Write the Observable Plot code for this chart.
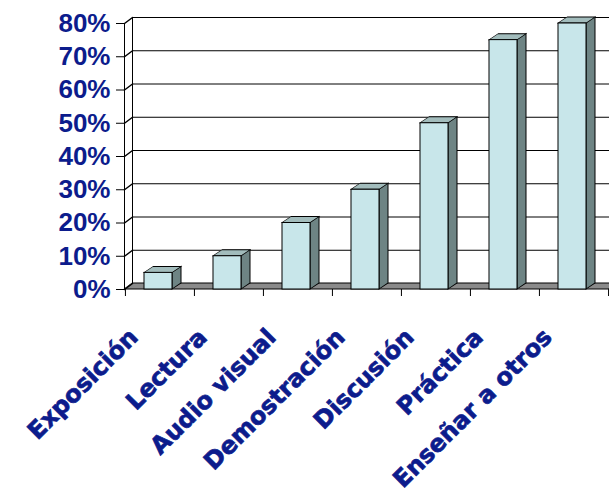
<!DOCTYPE html>
<html>
<head>
<meta charset="utf-8">
<script src="https://cdn.jsdelivr.net/npm/d3@7"></script>
<script src="https://cdn.jsdelivr.net/npm/@observablehq/plot@0.6"></script>
<style>
  html, body { margin: 0; padding: 0; background: white; overflow: hidden; }
  .ylab text { font-family: "Liberation Sans", Arial, sans-serif; font-weight: bold; }
  .xlab text { font-family: "DejaVu Sans", sans-serif; font-weight: bold; stroke: #0c1c8c; stroke-width: 0.7px; }
</style>
</head>
<body>
<div id="chart"></div>
<script>
const categories = ["Exposición", "Lectura", "Audio visual", "Demostración", "Discusión", "Práctica", "Enseñar a otros"];
const values = [0.05, 0.10, 0.20, 0.30, 0.50, 0.75, 0.80];
const yTicks = [0, 0.1, 0.2, 0.3, 0.4, 0.5, 0.6, 0.7, 0.8];

const data = categories.map((c, i) => ({cat: c, v: values[i]}));

const W = 609, H = 497, mL = 124, mR = 1, mT = 23, mB = 208;
const bw = (W - mL - mR) / categories.length;
const navy = "#0c1c8c";
const faceFill = "#c8e6ea", sideFill = "#6e8484", topFill = "#a2bcbc", floorFill = "#8a8a8a";

const plot = Plot.plot({
  width: W, height: H,
  marginLeft: mL, marginRight: mR, marginTop: mT, marginBottom: mB,
  x: {domain: categories, padding: 0, label: null},
  y: {domain: [0, 0.8], label: null},
  style: {background: "white", overflow: "visible"},
  marks: [
    Plot.ruleY(yTicks, {dx: 8, dy: -6, stroke: "black"}),
    Plot.frame({anchor: "left", dx: 8, dy: -6, stroke: "black"}),
    Plot.frame({className: "floor", fill: floorFill, stroke: "black", insetTop: H - mT - mB - 6}),
    Plot.vector(yTicks, {y: d => d, frameAnchor: "left", length: 10, rotate: 53.13, anchor: "start", stroke: "black",
      shape: {draw(c, l) { c.moveTo(0, 0); c.lineTo(0, -l); }}}),
    Plot.frame({anchor: "left", stroke: "black"}),
    Plot.barY(data, {x: "cat", y: "v", className: "side", insetLeft: 47, insetRight: 13, fill: sideFill, stroke: "black"}),
    Plot.barY(data, {x: "cat", y1: "v", y2: "v", className: "top", insetLeft: 19, insetRight: 22, fill: topFill, stroke: "black"}),
    Plot.barY(data, {x: "cat", y: "v", className: "front", insetLeft: 19, insetRight: 22, fill: faceFill, stroke: "black"}),
    Plot.axisY({className: "ylab", ticks: yTicks, tickFormat: d3.format(".0%"), tickSize: 8, tickPadding: 6,
      fontSize: 26, fill: navy, stroke: "black"}),
    Plot.axisX({className: "xlab", tickSize: 0, tickRotate: -45, fontSize: 24, fill: navy, dx: -26, dy: 32}),
    Plot.axisX({tickSize: 7, tickFormat: () => "", dx: -bw / 2, stroke: "black"}),
    Plot.axisX({ticks: [categories[categories.length - 1]], tickSize: 7, tickFormat: () => "", dx: bw / 2, stroke: "black"})
  ]
});

const svg = d3.select(plot);
svg.selectAll("g.side rect").each(function() {
  const r = d3.select(this);
  const x0 = +r.attr("x");
  r.attr("transform", `translate(${x0},0) skewY(${-Math.atan(6 / 9) * 180 / Math.PI}) translate(${-x0},0)`);
});
svg.selectAll("g.top rect").each(function() {
  const r = d3.select(this);
  const y0 = +r.attr("y");
  r.attr("y", y0 - 6).attr("height", 6)
   .attr("transform", `translate(0,${y0}) skewX(${-Math.atan(9 / 6) * 180 / Math.PI}) translate(0,${-y0})`);
});
svg.selectAll("g.floor rect, rect.floor, .floor").each(function() {
  const node = this.tagName === "rect" ? this : this.querySelector("rect");
  if (!node) return;
  const r = d3.select(node);
  const yb = +r.attr("y") + +r.attr("height");
  r.attr("transform", `translate(0,${yb}) skewX(${-Math.atan(8 / 6) * 180 / Math.PI}) translate(0,${-yb})`);
});

document.getElementById("chart").appendChild(plot);
</script>
</body>
</html>
